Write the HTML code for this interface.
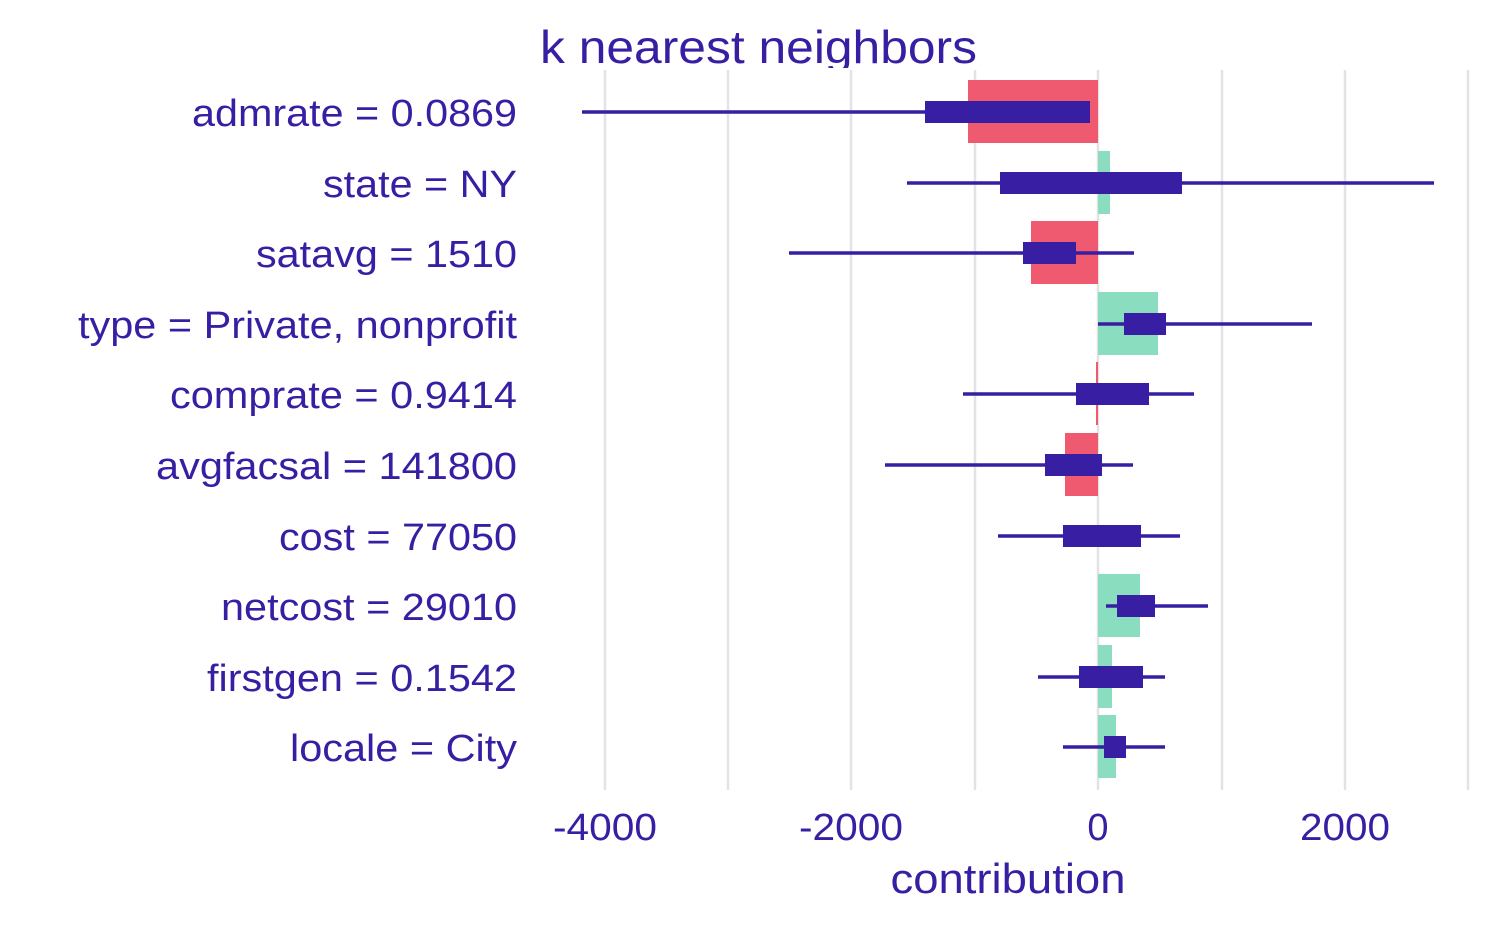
<!DOCTYPE html>
<html><head><style>body{margin:0;background:#fff}</style></head><body>
<svg width="1500" height="927" xmlns="http://www.w3.org/2000/svg" font-family="Liberation Sans, sans-serif" fill="#371EA3">
<g stroke="#e3e3e3" stroke-width="2.5">
<line x1="605" y1="70" x2="605" y2="790"/><line x1="728" y1="70" x2="728" y2="790"/><line x1="851" y1="70" x2="851" y2="790"/><line x1="975" y1="70" x2="975" y2="790"/><line x1="1098" y1="70" x2="1098" y2="790"/><line x1="1222" y1="70" x2="1222" y2="790"/><line x1="1345" y1="70" x2="1345" y2="790"/><line x1="1468" y1="70" x2="1468" y2="790"/>
</g>
<g fill="#F05A71">
<rect x="968" y="80" width="130" height="63"/><rect x="1031" y="221" width="67" height="63"/><rect x="1096" y="362" width="2" height="63"/><rect x="1065" y="433" width="33" height="63"/>
</g>
<g fill="#8BDDC0">
<rect x="1098" y="151" width="12" height="63"/><rect x="1098" y="292" width="60" height="63"/><rect x="1098" y="574" width="42" height="63"/><rect x="1098" y="645" width="14" height="63"/><rect x="1098" y="715" width="18" height="63"/>
</g>
<g stroke="#371EA3" stroke-width="3.5">
<line x1="582" y1="112" x2="1090" y2="112"/><line x1="907" y1="183" x2="1434" y2="183"/><line x1="789" y1="253" x2="1134" y2="253"/><line x1="1098" y1="324" x2="1312" y2="324"/><line x1="963" y1="394" x2="1194" y2="394"/><line x1="885" y1="465" x2="1133" y2="465"/><line x1="998" y1="536" x2="1180" y2="536"/><line x1="1106" y1="606" x2="1208" y2="606"/><line x1="1038" y1="677" x2="1165" y2="677"/><line x1="1063" y1="747" x2="1165" y2="747"/>
</g>
<g>
<rect x="925" y="101" width="165" height="22"/><rect x="1000" y="172" width="182" height="22"/><rect x="1023" y="242" width="53" height="22"/><rect x="1124" y="313" width="42" height="22"/><rect x="1076" y="383" width="73" height="22"/><rect x="1045" y="454" width="57" height="22"/><rect x="1063" y="525" width="78" height="22"/><rect x="1117" y="595" width="38" height="22"/><rect x="1079" y="666" width="64" height="22"/><rect x="1104" y="736" width="22" height="22"/>
</g>
<g font-size="38" text-anchor="end" lengthAdjust="spacingAndGlyphs">
<text x="517" y="126" textLength="325" lengthAdjust="spacingAndGlyphs">admrate = 0.0869</text>
<text x="517" y="197" textLength="194" lengthAdjust="spacingAndGlyphs">state = NY</text>
<text x="517" y="267" textLength="261" lengthAdjust="spacingAndGlyphs">satavg = 1510</text>
<text x="517" y="338" textLength="439" lengthAdjust="spacingAndGlyphs">type = Private, nonprofit</text>
<text x="517" y="408" textLength="347" lengthAdjust="spacingAndGlyphs">comprate = 0.9414</text>
<text x="517" y="479" textLength="361" lengthAdjust="spacingAndGlyphs">avgfacsal = 141800</text>
<text x="517" y="550" textLength="238" lengthAdjust="spacingAndGlyphs">cost = 77050</text>
<text x="517" y="620" textLength="296" lengthAdjust="spacingAndGlyphs">netcost = 29010</text>
<text x="517" y="691" textLength="310" lengthAdjust="spacingAndGlyphs">firstgen = 0.1542</text>
<text x="517" y="761" textLength="227" lengthAdjust="spacingAndGlyphs">locale = City</text>
</g>
<g font-size="38" text-anchor="middle">
<text x="605" y="840" textLength="104" lengthAdjust="spacingAndGlyphs">-4000</text>
<text x="851" y="840" textLength="104" lengthAdjust="spacingAndGlyphs">-2000</text>
<text x="1098" y="840">0</text>
<text x="1345" y="840" textLength="90" lengthAdjust="spacingAndGlyphs">2000</text>
<text x="1008" y="893" font-size="42" textLength="235" lengthAdjust="spacingAndGlyphs">contribution</text>
</g>
<svg x="0" y="0" width="1500" height="68"><text x="540" y="63" font-size="46" textLength="437" lengthAdjust="spacingAndGlyphs">k nearest neighbors</text></svg>
</svg>
</body></html>
